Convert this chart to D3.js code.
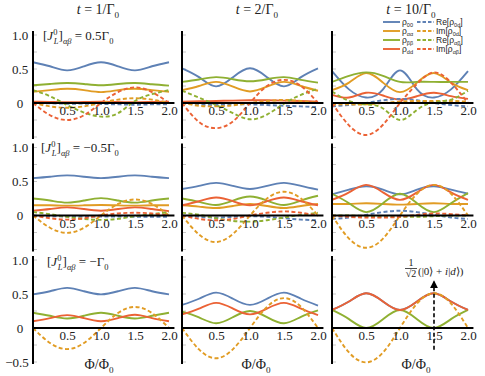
<!DOCTYPE html>
<html>
<head>
<meta charset="utf-8">
<script src="https://cdn.jsdelivr.net/npm/d3@7"></script>
<style>
  body { margin: 0; background: #fff; }
  svg text { font-family: "Liberation Serif", "Times New Roman", serif; fill: #222; }
  .legend text { font-family: "Liberation Sans", "DejaVu Sans", sans-serif; }
</style>
</head>
<body>
<svg width="485" height="376"></svg>
<script>
// sampling points along Φ/Φ0
const phi = [0, 0.25, 0.5, 0.75, 1, 1.25, 1.5, 1.75, 2];

// column titles (t Γ0) and row couplings ([J_L^0]_αβ in units of Γ0)
const times = ["1", "2", "10"];
const couplings = ["0.5", "\u22120.5", "\u2212"];
const xTicks = [0.5, 1, 1.5, 2];

// each series: one array per panel, panel = row*3 + col
const rho00 = [
  [0.60, 0.54, 0.48, 0.54, 0.60, 0.54, 0.48, 0.54, 0.60],
  [0.51, 0.38, 0.245, 0.38, 0.51, 0.38, 0.245, 0.38, 0.51],
  [0.47, 0.20, 0.08, 0.20, 0.48, 0.20, 0.08, 0.20, 0.47],
  [0.55, 0.57, 0.59, 0.57, 0.55, 0.57, 0.59, 0.57, 0.55],
  [0.39, 0.435, 0.48, 0.435, 0.39, 0.435, 0.48, 0.435, 0.38],
  [0.31, 0.38, 0.43, 0.38, 0.31, 0.38, 0.43, 0.38, 0.32],
  [0.495, 0.54, 0.59, 0.54, 0.495, 0.54, 0.59, 0.54, 0.495],
  [0.34, 0.43, 0.52, 0.43, 0.34, 0.43, 0.52, 0.43, 0.33],
  [0.265, 0.39, 0.51, 0.39, 0.265, 0.39, 0.51, 0.39, 0.265]
];
const rhoAA = [
  [0.165, 0.19, 0.21, 0.19, 0.16, 0.19, 0.21, 0.19, 0.165],
  [0.19, 0.25, 0.31, 0.24, 0.17, 0.24, 0.31, 0.25, 0.18],
  [0.19, 0.30, 0.44, 0.30, 0.16, 0.30, 0.44, 0.30, 0.19],
  [0.15, 0.15, 0.145, 0.15, 0.155, 0.15, 0.145, 0.15, 0.15],
  [0.15, 0.13, 0.11, 0.14, 0.17, 0.14, 0.11, 0.14, 0.17],
  [0.17, 0.17, 0.18, 0.17, 0.16, 0.17, 0.18, 0.17, 0.17],
  [0, 0, 0, 0, 0, 0, 0, 0, 0],
  [0, 0, 0, 0, 0, 0, 0, 0, 0],
  [0, 0, 0, 0, 0, 0, 0, 0, 0]
];
const rhoBB = [
  [0.26, 0.28, 0.295, 0.28, 0.26, 0.28, 0.295, 0.275, 0.255],
  [0.31, 0.345, 0.38, 0.35, 0.32, 0.35, 0.38, 0.34, 0.30],
  [0.31, 0.40, 0.45, 0.40, 0.31, 0.31, 0.31, 0.31, 0.31],
  [0.25, 0.22, 0.19, 0.22, 0.255, 0.22, 0.19, 0.22, 0.25],
  [0.25, 0.20, 0.155, 0.22, 0.28, 0.22, 0.155, 0.22, 0.29],
  [0.32, 0.18, 0.05, 0.18, 0.32, 0.18, 0.05, 0.18, 0.33],
  [0.225, 0.18, 0.14, 0.18, 0.225, 0.18, 0.14, 0.18, 0.225],
  [0.24, 0.155, 0.07, 0.16, 0.25, 0.16, 0.07, 0.165, 0.26],
  [0.265, 0.13, 0.0, 0.13, 0.265, 0.13, 0.0, 0.13, 0.265]
];
const rhoDD = [
  [0.02, 0.015, 0.01, 0.015, 0.02, 0.015, 0.01, 0.015, 0.02],
  [0.02, 0.025, 0.03, 0.035, 0.04, 0.04, 0.035, 0.03, 0.02],
  [0.12, 0.08, 0.15, 0.11, 0.05, 0.10, 0.15, 0.10, 0.06],
  [0.07, 0.095, 0.12, 0.095, 0.07, 0.095, 0.12, 0.095, 0.065],
  [0.15, 0.21, 0.265, 0.21, 0.15, 0.21, 0.265, 0.21, 0.15],
  [0.23, 0.34, 0.45, 0.34, 0.23, 0.34, 0.45, 0.34, 0.23],
  [0.10, 0.145, 0.19, 0.145, 0.10, 0.145, 0.195, 0.145, 0.10],
  [0.20, 0.285, 0.37, 0.285, 0.20, 0.285, 0.37, 0.285, 0.19],
  [0.265, 0.39, 0.51, 0.39, 0.265, 0.39, 0.51, 0.39, 0.265]
];
const reRho0d = [
  [0, -0.005, -0.01, -0.01, -0.015, -0.02, -0.025, -0.02, -0.02],
  [0, -0.02, -0.03, -0.02, -0.02, -0.03, -0.04, -0.05, -0.06],
  [-0.05, -0.03, 0, 0.04, 0.06, 0.04, 0, -0.03, -0.05],
  [0, -0.01, -0.015, -0.015, -0.015, -0.015, -0.02, -0.02, -0.02],
  [0, -0.02, -0.03, -0.02, -0.01, -0.02, -0.04, -0.06, -0.07],
  [-0.05, -0.03, 0.01, 0.05, 0.07, 0.05, 0.01, -0.03, -0.05],
  [0, 0, 0, 0, 0, 0, 0, 0, 0],
  [0, 0, 0, 0, 0, 0, 0, 0, 0],
  [0, 0, 0, 0, 0, 0, 0, 0, 0]
];
const imRho0d = [
  [0, -0.05, -0.07, -0.05, 0, 0.05, 0.07, 0.05, 0],
  [0, -0.04, -0.05, -0.035, 0, 0.03, 0.045, 0.03, 0],
  [-0.02, -0.02, -0.02, 0, 0.02, 0.03, 0.03, 0.03, 0.02],
  [0, -0.18, -0.255, -0.18, 0, 0.17, 0.235, 0.17, 0],
  [0, -0.28, -0.39, -0.27, 0, 0.25, 0.35, 0.25, 0],
  [0, -0.34, -0.475, -0.34, 0, 0.32, 0.45, 0.32, 0],
  [0, -0.22, -0.31, -0.22, 0, 0.22, 0.31, 0.22, 0],
  [0, -0.315, -0.445, -0.31, 0, 0.31, 0.44, 0.31, 0],
  [0, -0.36, -0.505, -0.36, 0, 0.36, 0.51, 0.36, 0]
];
const reRhoAB = [
  [0.19, 0.10, -0.03, -0.14, -0.20, -0.15, 0.03, 0.13, 0.19],
  [0.18, 0.08, -0.03, -0.15, -0.24, -0.17, -0.01, 0.12, 0.21],
  [0.17, 0.03, -0.02, -0.08, -0.25, -0.10, 0.01, 0.05, 0.18],
  [0.05, 0.02, -0.02, -0.05, -0.065, -0.05, -0.01, 0.02, 0.05],
  [0.04, 0.01, -0.04, -0.08, -0.09, -0.07, -0.03, 0.01, 0.04],
  [0, 0, -0.01, -0.02, -0.02, -0.02, -0.01, 0, 0],
  [0, 0, 0, 0, 0, 0, 0, 0, 0],
  [0, 0, 0, 0, 0, 0, 0, 0, 0],
  [0, 0, 0, 0, 0, 0, 0, 0, 0]
];
const imRhoAB = [
  [0, -0.18, -0.25, -0.18, 0, 0.16, 0.23, 0.16, 0],
  [0, -0.28, -0.37, -0.27, 0, 0.25, 0.34, 0.25, 0],
  [0, -0.33, -0.47, -0.32, 0, 0.28, 0.45, 0.30, 0],
  [0, -0.04, -0.06, -0.04, 0, 0.03, 0.04, 0.03, 0],
  [0, -0.05, -0.07, -0.05, 0, 0.04, 0.06, 0.04, 0],
  [0, -0.02, -0.03, -0.03, -0.02, 0.01, 0.03, 0.02, 0],
  [0, 0, 0, 0, 0, 0, 0, 0, 0],
  [0, 0, 0, 0, 0, 0, 0, 0, 0],
  [0, 0, 0, 0, 0, 0, 0, 0, 0]
];

// arrow marking the state (|0> + i|d>)/sqrt2 in the last panel
const arrowPhi = 1.5;
const arrowFrom = -0.32, arrowTo = 0.68;

const blue = "#5E81B5", orange = "#E19C24", green = "#8FB032", red = "#EB6235";
const series = [
  { data: rho00,   color: blue,   dash: null, label: [["ρ"], ["00", "sub"]] },
  { data: rhoAA,   color: orange, dash: null, label: [["ρ"], ["αα", "sub"]] },
  { data: rhoBB,   color: green,  dash: null, label: [["ρ"], ["ββ", "sub"]] },
  { data: rhoDD,   color: red,    dash: null, label: [["ρ"], ["dd", "sub"]] },
  { data: reRho0d, color: blue,   dash: "4,2.5", label: [["Re[ρ"], ["0d", "sub"], ["]"]] },
  { data: imRho0d, color: orange, dash: "4,2.5", label: [["Im[ρ"], ["0d", "sub"], ["]"]] },
  { data: reRhoAB, color: green,  dash: "4,2.5", label: [["Re[ρ"], ["αβ", "sub"], ["]"]] },
  { data: imRhoAB, color: red,    dash: "4,2.5", label: [["Im[ρ"], ["αβ", "sub"], ["]"]] }
];

const svg = d3.select("svg");
const colX0 = [33, 182, 332];
const rowY0 = [103, 215.5, 328];
const panelW = 136, unitH = 68;

// writes [text, kind, dx] pieces as tspans (kind may hold sub, sup, it)
function richText(sel, parts, size) {
  let shift = 0;
  parts.forEach(([t, kind, dx]) => {
    kind = kind || "";
    const target = kind.includes("sub") ? size * 0.28 : kind.includes("sup") ? -size * 0.42 : 0;
    const ts = sel.append("tspan").text(t)
      .attr("font-size", target ? size * 0.65 : size);
    if (target !== shift) ts.attr("dy", target - shift);
    shift = target;
    if (kind.includes("it")) ts.attr("font-style", "italic");
    if (dx) ts.attr("dx", dx);
  });
  return sel;
}

for (let r = 0; r < 3; r++) {
  for (let c = 0; c < 3; c++) {
    const p = r * 3 + c;
    const x = d3.scaleLinear().domain([0, 2]).range([colX0[c], colX0[c] + panelW]);
    const y = d3.scaleLinear().domain([0, 1]).range([rowY0[r], rowY0[r] - unitH]);
    const g = svg.append("g");

    // faint ticks on the vertical axis
    g.selectAll(".minor").data([-0.5, -0.25, 0.25, 0.5, 0.75, 1])
      .enter().append("line")
      .attr("x1", x(0)).attr("x2", x(0) + 4)
      .attr("y1", d => y(d)).attr("y2", d => y(d))
      .attr("stroke", "#c8c8c8").attr("stroke-width", 1);

    const line = d3.line()
      .x((d, i) => x(phi[i]))
      .y(d => y(d))
      .curve(d3.curveNatural);

    series.forEach(s => {
      g.append("path")
        .attr("d", line(s.data[p]))
        .attr("fill", "none")
        .attr("stroke", s.color)
        .attr("stroke-width", 1.9)
        .attr("stroke-dasharray", s.dash);
    });

    // axes
    g.append("line")
      .attr("x1", x(0)).attr("x2", x(2.08))
      .attr("y1", y(0)).attr("y2", y(0))
      .attr("stroke", "#000").attr("stroke-width", 2);
    g.append("line")
      .attr("x1", x(0)).attr("x2", x(0))
      .attr("y1", y(-0.53)).attr("y2", y(1.06))
      .attr("stroke", "#000").attr("stroke-width", 2);

    const xAxis = g.append("g")
      .attr("transform", `translate(0,${y(0)})`)
      .call(d3.axisBottom(x).tickValues(xTicks).tickFormat(d3.format(".1f")).tickSize(0).tickPadding(3));
    xAxis.select(".domain").remove();
    xAxis.selectAll("text").attr("font-size", 13).attr("font-family", "Liberation Serif").attr("fill", "#222");

    if (c === 0) {
      const yTicks = r === 2 ? [-0.5, 0, 0.5, 1] : [0, 0.5, 1];
      const yAxis = g.append("g")
        .attr("transform", `translate(${x(0)},0)`)
        .call(d3.axisLeft(y).tickValues(yTicks)
          .tickFormat(d => d === 0 ? "0" : d < 0 ? "\u22120.5" : d3.format(".1f")(d)).tickSize(0));
      yAxis.select(".domain").remove();
      yAxis.selectAll("text")
        .attr("x", d => d < 0 ? -16 : -13)
        .attr("text-anchor", "middle")
        .attr("font-size", 13).attr("font-family", "Liberation Serif").attr("fill", "#222");

      const lx = [43, 41, 47][r];
      const ly = [40, 152, 266][r];
      const tx = svg.append("text").attr("x", lx).attr("y", ly).attr("font-size", 13);
      richText(tx, [
        ["["], ["J", "it"], ["0", "sup"], ["L", "sub it", -3.5], ["]"], ["αβ", "sub it"],
        [" = " + couplings[r] + "Γ"], ["0", "sub"]
      ], 13);
    }

    if (p === 8) {
      svg.append("defs").append("marker")
        .attr("id", "ah").attr("viewBox", "0 0 10 10").attr("refX", 8).attr("refY", 5)
        .attr("markerWidth", 5).attr("markerHeight", 5).attr("orient", "auto")
        .append("path").attr("d", "M0,0L10,5L0,10z").attr("fill", "#000");
      g.append("line")
        .attr("x1", x(arrowPhi)).attr("x2", x(arrowPhi))
        .attr("y1", y(arrowFrom)).attr("y2", y(arrowTo))
        .attr("stroke", "#000").attr("stroke-width", 1.6)
        .attr("stroke-dasharray", "4,2.5")
        .attr("marker-end", "url(#ah)");
    }
  }
}

// column titles
const titleX = [98, 257, 411];
times.forEach((t, c) => {
  const tx = svg.append("text").attr("x", titleX[c]).attr("y", 14)
    .attr("text-anchor", "middle").attr("font-size", 14);
  richText(tx, [["t", "it"], [" = " + t + "/Γ"], ["0", "sub"]], 14);
});

// Φ/Φ0 labels
const xlabX = [99, 256, 416];
xlabX.forEach(lx => {
  const tx = svg.append("text").attr("x", lx).attr("y", 369)
    .attr("text-anchor", "middle").attr("font-size", 14);
  richText(tx, [["Φ/Φ"], ["0", "sub"]], 14);
});

// state annotation
svg.append("text").attr("x", 411).attr("y", 266).attr("text-anchor", "middle")
  .attr("font-size", 10).text("1");
svg.append("line").attr("x1", 405).attr("x2", 417).attr("y1", 268.5).attr("y2", 268.5)
  .attr("stroke", "#222").attr("stroke-width", 0.8);
svg.append("text").attr("x", 411).attr("y", 277).attr("text-anchor", "middle")
  .attr("font-size", 10).text("\u221a2");
const st = svg.append("text").attr("x", 418).attr("y", 275).attr("font-size", 11);
richText(st, [["(|0⟩ + "], ["i", "it"], ["|"], ["d", "it"], ["⟩)"]], 11);

// legend
const legend = svg.append("g").attr("class", "legend");
const legRowY = [22, 31, 40, 49];
series.forEach((s, i) => {
  const col = i < 4 ? 0 : 1;
  const row = i % 4;
  const lx = col === 0 ? 383 : 417;
  const ly = legRowY[row];
  legend.append("line")
    .attr("x1", lx).attr("x2", lx + 17).attr("y1", ly).attr("y2", ly)
    .attr("stroke", s.color).attr("stroke-width", 1.9)
    .attr("stroke-dasharray", s.dash ? "3.5,2" : null);
  const tx = legend.append("text").attr("x", lx + 19).attr("y", ly + 2.5).attr("font-size", 8.5);
  richText(tx, s.label, 8.5);
});
</script>
</body>
</html>
